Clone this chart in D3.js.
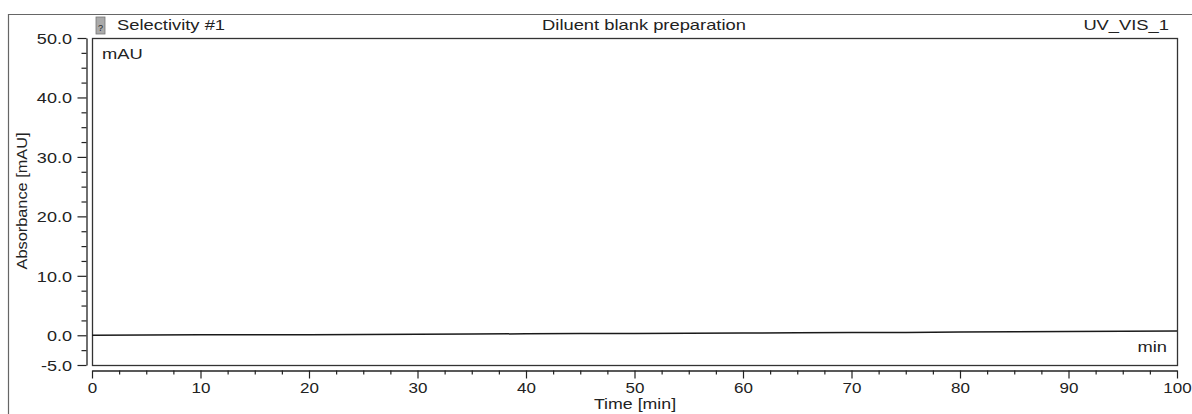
<!DOCTYPE html>
<html>
<head>
<meta charset="utf-8">
<script src="https://cdn.jsdelivr.net/npm/d3@7"></script>
<style>
  body { margin: 0; background: #fff; }
  svg { display: block; }
  text { font-family: "Liberation Sans", Arial, sans-serif; fill: #222; }
</style>
</head>
<body>
<div id="chart"></div>
<script>
// chromatogram trace
const times = [0, 5, 10, 15, 20, 25, 30, 35, 40, 45, 50, 55, 60, 65, 70, 75, 80, 85, 90, 95, 100]
const absorbance = [0.0, 0.05, 0.08, 0.08, 0.1, 0.12, 0.17, 0.2, 0.25, 0.28, 0.3, 0.33, 0.38, 0.42, 0.45, 0.48, 0.55, 0.58, 0.62, 0.66, 0.7]

const yMajor = [-5, 0, 10, 20, 30, 40, 50]
const xMajor = [0, 10, 20, 30, 40, 50, 60, 70, 80, 90, 100]
const minorStep = 2.5

const headerLeft = 'Selectivity #1'
const headerMid = 'Diluent blank preparation'
const headerRight = 'UV_VIS_1'

const width = 1192
const height = 414
const plot = { left: 92, top: 38, right: 1177, bottom: 365 }
// the scanned print has wide glyphs, so text gets stretched sideways
const stretch = 1.24

const x = d3.scaleLinear().domain([0, 100]).range([plot.left, plot.right])
const y = d3.scaleLinear().domain([-5, 50]).range([plot.bottom, plot.top])

const svg = d3.select('#chart').append('svg')
  .attr('width', width)
  .attr('height', height)

function label (tx, ty, str, anchor, sx) {
  return svg.append('text')
    .attr('transform', `translate(${tx},${ty}) scale(${sx || stretch},1)`)
    .attr('text-anchor', anchor || 'start')
    .attr('font-size', 14.8)
    .text(str)
}

// outer frame (top + left edge)
svg.append('path')
  .attr('d', `M8.5,${height} V14.5 H${width}`)
  .attr('fill', 'none')
  .attr('stroke', '#666')
  .attr('stroke-width', 1.2)

// plot frame
svg.append('rect')
  .attr('x', plot.left + 0.5)
  .attr('y', plot.top + 0.5)
  .attr('width', plot.right - plot.left)
  .attr('height', plot.bottom - plot.top)
  .attr('fill', 'none')
  .attr('stroke', '#333')
  .attr('stroke-width', 1.3)

// header
svg.append('rect')
  .attr('x', 96).attr('y', 17).attr('width', 9).attr('height', 17)
  .attr('fill', '#aaa').attr('stroke', '#777').attr('stroke-width', 0.8)
svg.append('text').attr('x', 100.5).attr('y', 31).attr('text-anchor', 'middle')
  .attr('font-size', 9).text('?')
label(117, 30, headerLeft)
label(644, 30, headerMid, 'middle')
label(1169, 30, headerRight, 'end')

label(102, 59, 'mAU')
label(1167, 352, 'min', 'end')

function minorTicks (domain, majors) {
  const out = []
  for (let v = domain[0]; v <= domain[1] + 1e-9; v += minorStep) {
    if (!majors.some(m => Math.abs(m - v) < 1e-9)) out.push(v)
  }
  return out
}

// y axis
const fmtY = d => d3.format('.1f')(d).replace('\u2212', '-')
const yAxisG = svg.append('g').attr('transform', 'translate(86.5,0)')
yAxisG.append('g').attr('class', 'minor')
  .call(d3.axisLeft(y).tickValues(minorTicks([-5, 50], yMajor)).tickSize(5).tickFormat(''))
yAxisG.append('g')
  .call(d3.axisLeft(y).tickValues(yMajor).tickSize(9).tickSizeOuter(0).tickFormat(fmtY))
yAxisG.select('.minor path').remove()
yAxisG.selectAll('path').attr('stroke', '#222').attr('stroke-width', 1.3)
yAxisG.selectAll('line').attr('stroke', '#222').attr('stroke-width', 1.2)
yAxisG.selectAll('text')
  .attr('font-size', 14.8).attr('fill', '#222')
  .attr('x', null)
  .attr('dy', '0.35em')
  .attr('transform', 'translate(-14.5,0) scale(1.22,1)')

svg.append('text')
  .attr('transform', 'translate(27,201) rotate(-90) scale(1.15,1)')
  .attr('text-anchor', 'middle')
  .attr('font-size', 14.2)
  .text('Absorbance [mAU]')

// x axis
const xAxisG = svg.append('g').attr('transform', 'translate(0,370.5)')
xAxisG.append('g').attr('class', 'minor')
  .call(d3.axisBottom(x).tickValues(minorTicks([0, 100], xMajor)).tickSize(4).tickFormat(''))
xAxisG.append('g')
  .call(d3.axisBottom(x).tickValues(xMajor).tickSize(8).tickSizeOuter(0))
xAxisG.select('.minor path').remove()
xAxisG.selectAll('path').attr('stroke', '#222').attr('stroke-width', 1.3)
xAxisG.selectAll('line').attr('stroke', '#222').attr('stroke-width', 1.2)
xAxisG.selectAll('text')
  .attr('font-size', 15.2).attr('fill', '#222')
  .attr('y', null)
  .attr('transform', 'translate(0,12) scale(1.12,1)')

label(635, 409, 'Time [min]', 'middle', 1.2)

// trace
const line = d3.line()
  .x((d, i) => x(times[i]))
  .y(d => y(d))

svg.append('path')
  .datum(absorbance)
  .attr('d', line)
  .attr('fill', 'none')
  .attr('stroke', '#1a1a1a')
  .attr('stroke-width', 1.5)
</script>
</body>
</html>
